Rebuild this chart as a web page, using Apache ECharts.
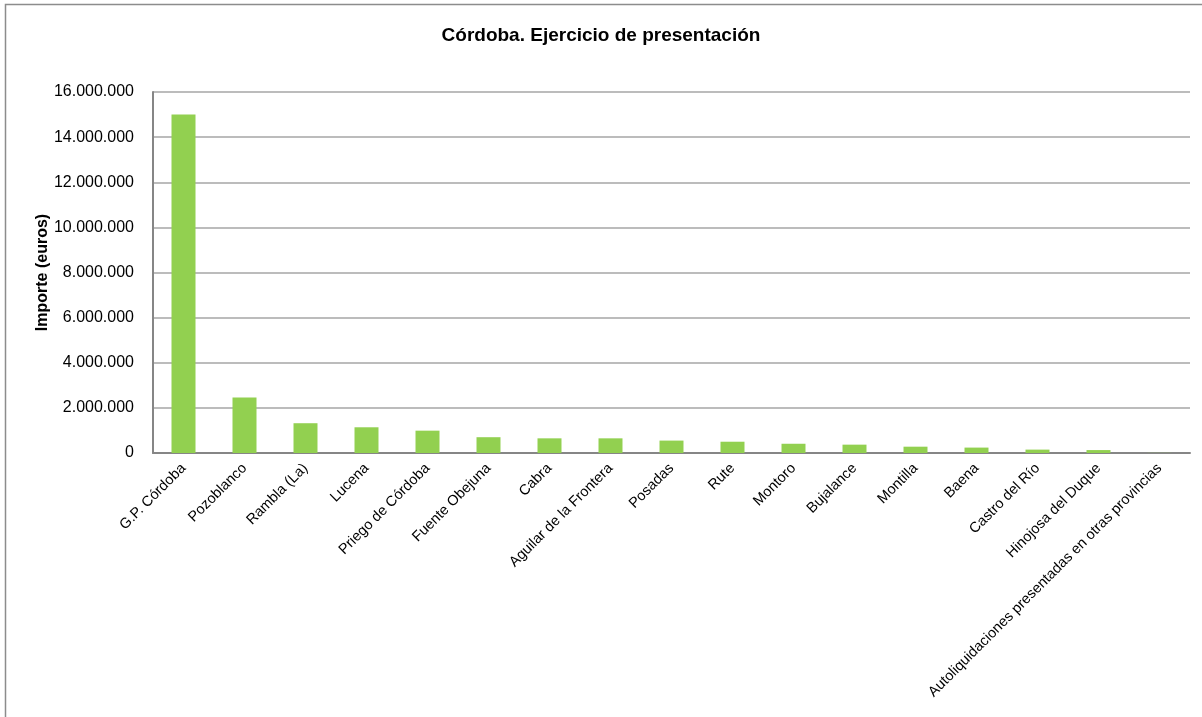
<!DOCTYPE html>
<html>
<head>
<meta charset="utf-8">
<script src="https://cdn.jsdelivr.net/npm/echarts@6/dist/echarts.min.js"></script>
<style>
html,body{margin:0;padding:0;background:#fff;}
#chart{width:1202px;height:717px;}
</style>
</head>
<body>
<div id="chart"></div>
<script>
const chartTitle = 'Córdoba. Ejercicio de presentación';
const yAxisName = 'Importe (euros)';
const categories = ['G.P. Córdoba','Pozoblanco','Rambla (La)','Lucena','Priego de Córdoba','Fuente Obejuna','Cabra','Aguilar de la Frontera','Posadas','Rute','Montoro','Bujalance','Montilla','Baena','Castro del Río','Hinojosa del Duque','Autoliquidaciones presentadas en otras provincias'];
const values = [15000000,2460000,1320000,1140000,990000,700000,650000,650000,550000,500000,410000,370000,280000,240000,150000,130000,5000];

const chart = echarts.init(document.getElementById('chart'));
function fmt(v){ return String(v).replace(/\B(?=(\d{3})+(?!\d))/g,'.'); }
chart.setOption({
  backgroundColor:'#fff',
  animation:false,
  title:{
    text:chartTitle,
    left:'center', top:21,
    textStyle:{fontFamily:'Liberation Sans Narrow, Liberation Sans, Arial',fontWeight:'bold',fontSize:19,color:'#000'}
  },
  graphic:[{type:'rect',shape:{x:5.5,y:4.5,width:1400,height:900},style:{fill:'none',stroke:'#8c8c8c',lineWidth:1.5},silent:true}],
  grid:{left:153,top:92,right:12,bottom:264,containLabel:false},
  xAxis:{
    type:'category',data:categories,
    axisLine:{show:true,lineStyle:{color:'#868686',width:2}},
    axisTick:{show:false},
    axisLabel:{rotate:45,interval:0,margin:13,fontFamily:'Liberation Sans, Arial',fontSize:14.5,color:'#000'}
  },
  yAxis:{
    type:'value',min:0,max:16000000,interval:2000000,
    name:yAxisName,nameLocation:'middle',nameGap:102,nameRotate:90,nameMoveOverlap:false,
    nameTextStyle:{fontFamily:'Liberation Sans, Arial',fontWeight:'bold',fontSize:16,color:'#000'},
    axisLine:{show:true,lineStyle:{color:'#868686',width:2}},
    axisTick:{show:false},
    splitLine:{show:true,lineStyle:{color:'#a6a6a6',width:1.5}},
    axisLabel:{formatter:fmt,margin:19,fontFamily:'Liberation Sans, Arial',fontSize:16,color:'#000'}
  },
  series:[{
    type:'bar',data:values,barWidth:24,
    itemStyle:{color:'#92d050'}
  }]
});
</script>
</body>
</html>
